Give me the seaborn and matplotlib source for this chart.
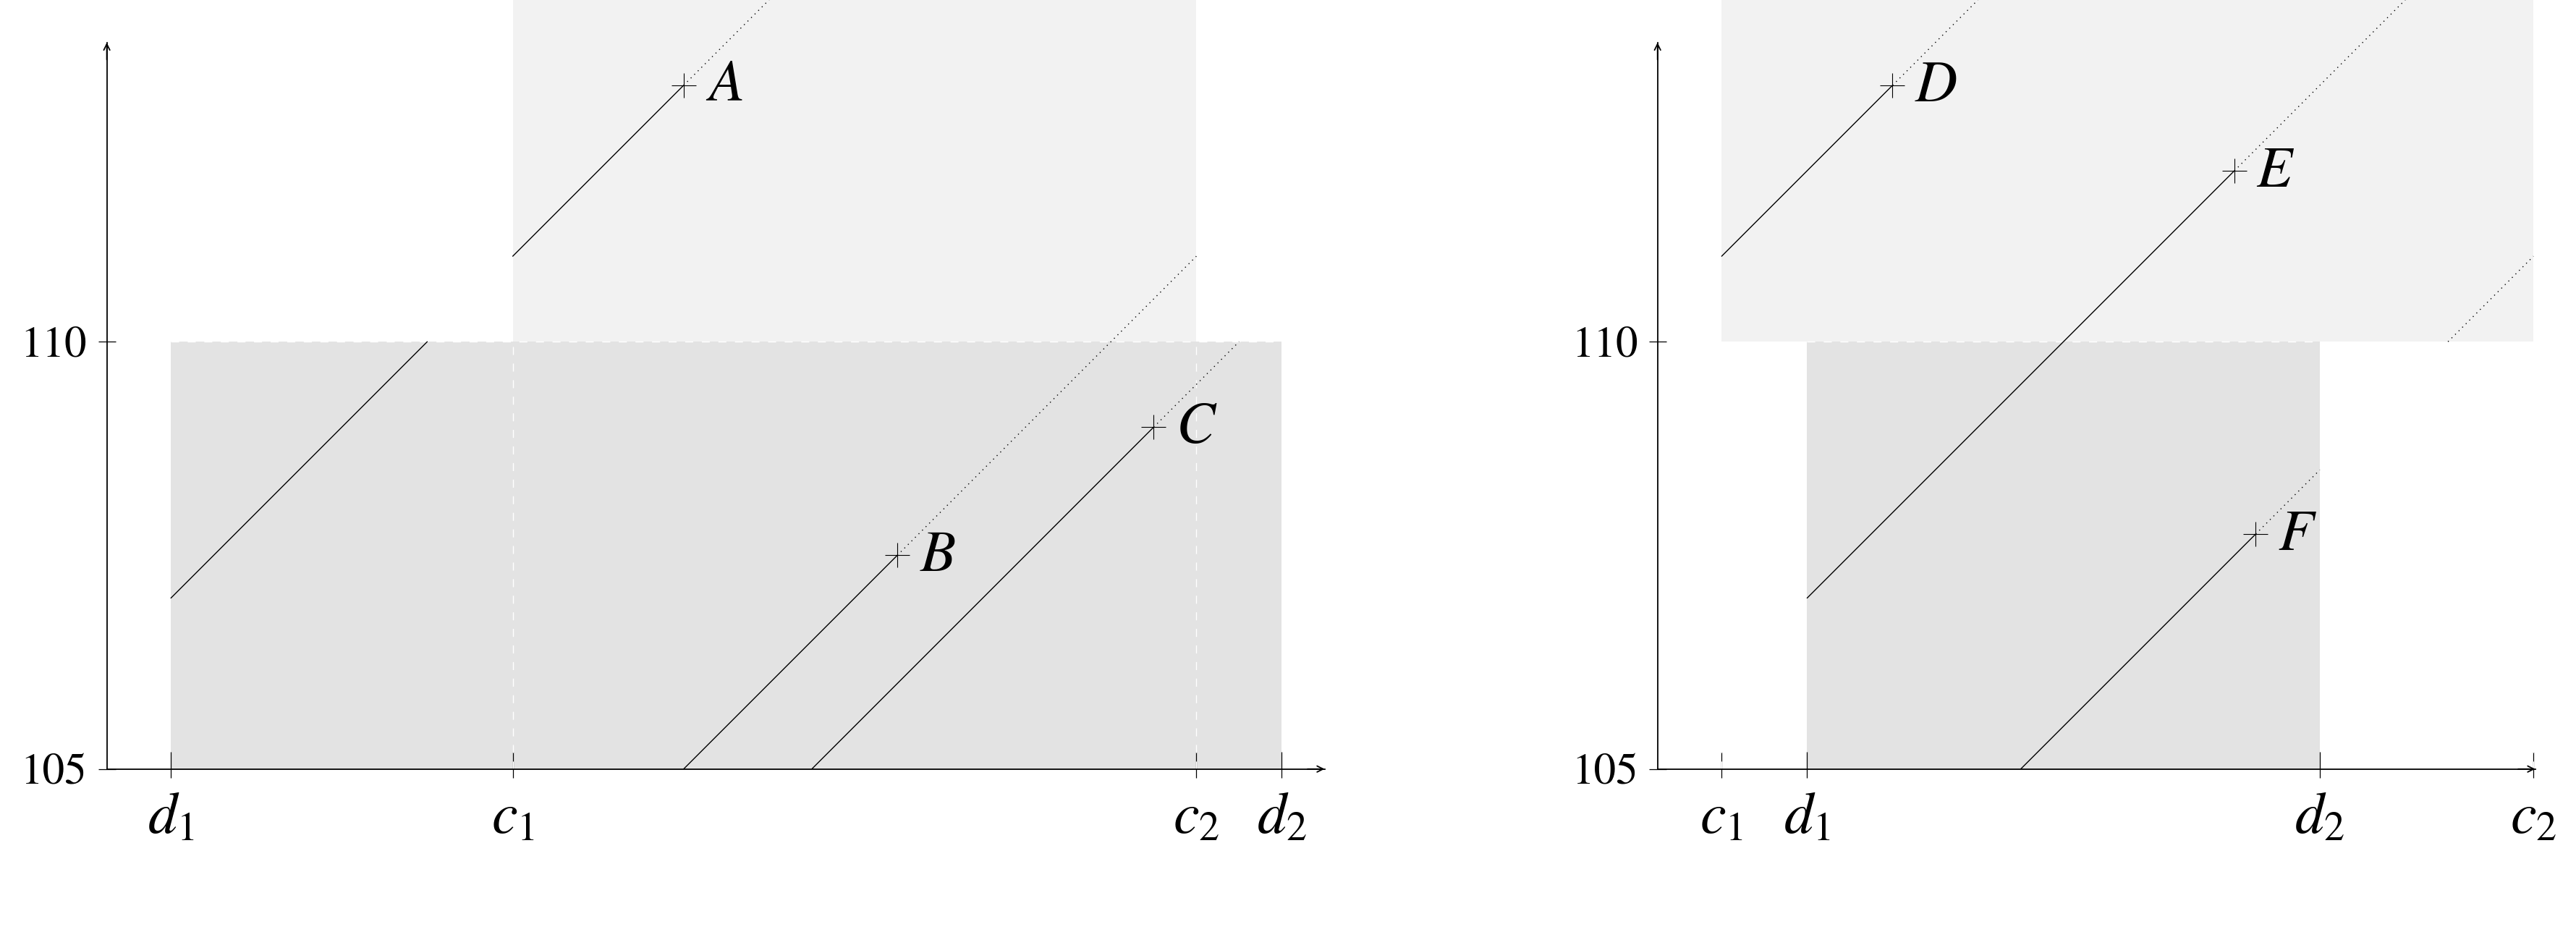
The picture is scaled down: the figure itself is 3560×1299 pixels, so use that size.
import numpy as np
import matplotlib
matplotlib.use("Agg")
import matplotlib.pyplot as plt
import seaborn as sns
from matplotlib.patches import Rectangle

sns.set_theme(style="white")
plt.rcParams['mathtext.fontset'] = 'stix'
plt.rcParams['font.family'] = ['STIXGeneral', 'DejaVu Serif']
plt.rcParams['text.color'] = 'black'
plt.rcParams['xtick.color'] = 'black'
plt.rcParams['ytick.color'] = 'black'
plt.rcParams['axes.labelcolor'] = 'black'

# values (slope-1 lines, equal x/y scale)
y_low, y_mid, y_top = 105, 110, 114
y_ticks = [105, 110]

left_ticks = [0.75, 4.75, 12.75, 13.75]
left_tick_labels = ['$d_1$', '$c_1$', '$c_2$', '$d_2$']
left_c = (4.75, 12.75)
left_d = (0.75, 13.75)
left_names = ['A', 'B', 'C']
left_px = [6.75, 9.25, 12.25]
left_py = [113.0, 107.5, 109.0]
left_solid_from = [4.75, 6.75, 8.25]
left_dotted_to = [7.75, 12.75, 13.25]
left_extra_x = [(0.75, 3.75)]
left_extra_b = [106.25]
left_extra_style = ['solid']

right_ticks = [0.75, 1.75, 7.75, 10.25]
right_tick_labels = ['$c_1$', '$d_1$', '$d_2$', '$c_2$']
right_c = (0.75, 10.25)
right_d = (1.75, 7.75)
right_names = ['D', 'E', 'F']
right_px = [2.75, 6.75, 7.0]
right_py = [113.0, 112.0, 107.75]
right_solid_from = [0.75, 1.75, 4.25]
right_dotted_to = [3.75, 8.75, 7.75]
right_extra_x = [(9.25, 10.25)]
right_extra_b = [100.75]
right_extra_style = ['dotted']

LIGHT = '#f2f2f2'
DARK = '#e3e3e3'
DOT = (0, (1, 4))

fig = plt.figure(figsize=(35.6, 12.99), dpi=100)
sx = 118.1 / 3560
sy = 118.1 / 1299
ax1 = fig.add_axes([147.6 / 3560, 236.3 / 1299, 14.5 * sx, 9 * sy])
ax2 = fig.add_axes([2290.7 / 3560, 236.3 / 1299, 10.75 * sx, 9 * sy])


def draw_panel(ax, xmax, arrow_x, ticks, labels, c, d, names, px, py,
               solid_from, dotted_to, extra_x, extra_b, extra_style):
    ax.set_xlim(0, xmax)
    ax.set_ylim(y_low, y_top)
    ax.set_facecolor('none')
    ax.add_patch(Rectangle((c[0], y_mid), c[1] - c[0], y_top - y_mid,
                           facecolor=LIGHT, edgecolor='none', zorder=0, clip_on=False))
    ax.add_patch(Rectangle((d[0], y_low), d[1] - d[0], y_mid - y_low,
                           facecolor=DARK, edgecolor='none', zorder=0.5))
    # white dashed borders
    ax.plot([d[0], d[1]], [y_mid, y_mid], color='white', lw=1.0,
            dashes=(8, 8.5), zorder=0.8)
    for xv in c:
        ax.plot([xv, xv], [y_low, y_mid], color='white', lw=1.0,
                dashes=(8, 8.5), zorder=0.8)

    for x0, x1, b, st in zip([e[0] for e in extra_x], [e[1] for e in extra_x],
                             extra_b, extra_style):
        xs = np.array([x0, x1])
        ax.plot(xs, xs + b, color='black', lw=1.0,
                linestyle='-' if st == 'solid' else DOT, zorder=2, clip_on=False)

    for name, x, y, xs0, xd in zip(names, px, py, solid_from, dotted_to):
        xs = np.array([xs0, x])
        ax.plot(xs, y + (xs - x), color='black', lw=1.0, zorder=2)
        xs = np.array([x, xd])
        ax.plot(xs, y + (xs - x), color='black', lw=1.0, linestyle=DOT,
                zorder=2, clip_on=False)
        ax.plot([x], [y], marker='+', ms=25, mew=0.8, color='black',
                zorder=3, clip_on=False)
        ax.annotate(f'${name}$', (x, y), xytext=(22, -2), textcoords='offset points',
                    fontsize=58, va='center', ha='left', zorder=4, color='black')

    for s in ['top', 'right']:
        ax.spines[s].set_visible(False)
    for s in ['left', 'bottom']:
        ax.spines[s].set_color('black')
        ax.spines[s].set_linewidth(1.3)
    ax.spines['left'].set_bounds(y_low, 113.5)
    ax.spines['bottom'].set_bounds(0, arrow_x)
    ax.annotate('', xy=(arrow_x, y_low), xytext=(arrow_x - 0.2, y_low),
                arrowprops=dict(arrowstyle='->,head_length=0.5,head_width=0.25',
                                lw=1.3, color='black', shrinkA=0, shrinkB=0),
                annotation_clip=False)
    ax.annotate('', xy=(0, 113.5), xytext=(0, 113.3),
                arrowprops=dict(arrowstyle='->,head_length=0.5,head_width=0.25',
                                lw=1.3, color='black', shrinkA=0, shrinkB=0),
                annotation_clip=False)

    ax.set_xticks(ticks)
    ax.set_xticklabels(labels, fontsize=58, color='black')
    ax.set_xticks(ticks, minor=True)
    ax.xaxis.remove_overlapping_locs = False
    ax.tick_params(axis='x', which='major', direction='in', length=17.3,
                   width=0.9, color='black', pad=24, bottom=True)
    ax.tick_params(axis='x', which='minor', direction='out', length=8.6,
                   width=0.9, color='black', bottom=True)
    ax.set_yticks(y_ticks)
    ax.set_yticklabels([str(v) for v in y_ticks], fontsize=44, color='black')
    ax.tick_params(axis='y', direction='inout', length=17.3, width=0.9,
                   color='black', pad=11, left=True)
    ax.grid(False)


draw_panel(ax1, 14.5, 14.25, left_ticks, left_tick_labels, left_c, left_d,
           left_names, left_px, left_py, left_solid_from, left_dotted_to,
           left_extra_x, left_extra_b, left_extra_style)
draw_panel(ax2, 10.75, 10.27, right_ticks, right_tick_labels, right_c, right_d,
           right_names, right_px, right_py, right_solid_from, right_dotted_to,
           right_extra_x, right_extra_b, right_extra_style)

fig.savefig('out.png', dpi=100)
